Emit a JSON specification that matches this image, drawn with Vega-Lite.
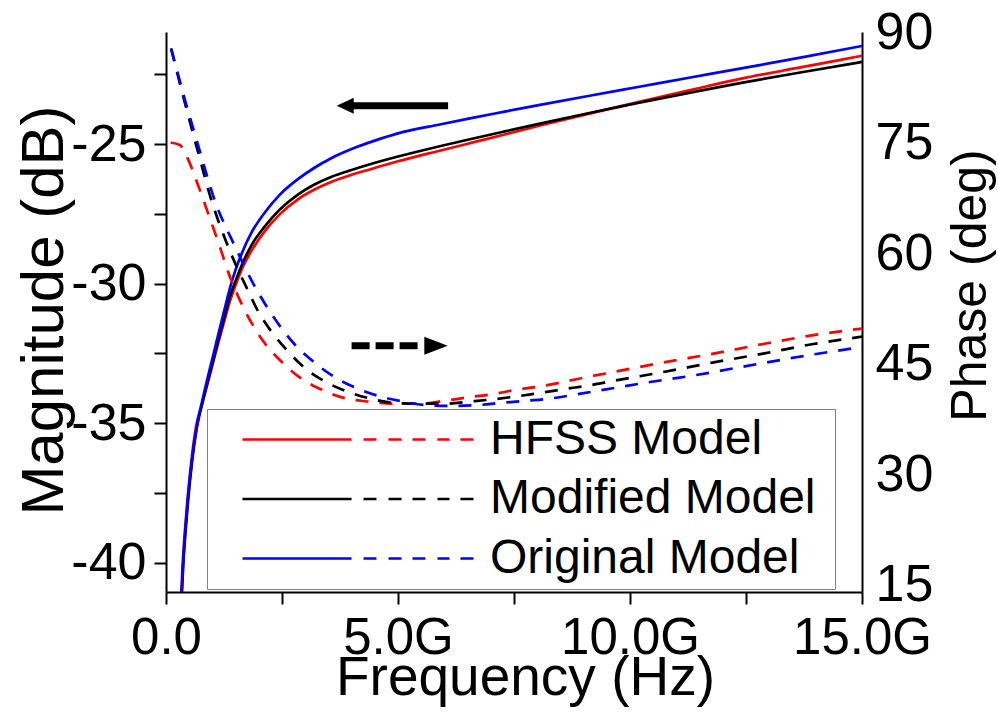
{
  "$schema": "https://vega.github.io/schema/vega-lite/v6.json",
  "width": 696,
  "height": 560,
  "autosize": {"type": "none"},
  "padding": {"left": 166, "top": 32, "right": 136, "bottom": 131},
  "background": "white",
  "config": {
    "view": {"stroke": null},
    "font": "Liberation Sans",
    "axis": {
      "grid": false,
      "domainColor": "black",
      "domainWidth": 2,
      "tickColor": "black",
      "tickWidth": 2,
      "labelFont": "Liberation Sans",
      "labelFontSize": 52,
      "labelColor": "black",
      "titleFont": "Liberation Sans",
      "titleFontSize": 55,
      "titleFontWeight": "normal",
      "titleColor": "black"
    }
  },
  "datasets": {
    "magnitude": [
      {"f": 0.31, "model": "HFSS Model", "db": -41.4},
      {"f": 0.33, "model": "HFSS Model", "db": -41.0},
      {"f": 0.36, "model": "HFSS Model", "db": -40.0},
      {"f": 0.41, "model": "HFSS Model", "db": -38.8},
      {"f": 0.47, "model": "HFSS Model", "db": -37.6},
      {"f": 0.55, "model": "HFSS Model", "db": -36.3},
      {"f": 0.65, "model": "HFSS Model", "db": -35.1},
      {"f": 0.78, "model": "HFSS Model", "db": -34.3},
      {"f": 0.9, "model": "HFSS Model", "db": -33.55},
      {"f": 1.02, "model": "HFSS Model", "db": -32.8},
      {"f": 1.13, "model": "HFSS Model", "db": -32.1},
      {"f": 1.25, "model": "HFSS Model", "db": -31.38},
      {"f": 1.38, "model": "HFSS Model", "db": -30.62},
      {"f": 1.5, "model": "HFSS Model", "db": -30.05},
      {"f": 1.63, "model": "HFSS Model", "db": -29.5},
      {"f": 1.85, "model": "HFSS Model", "db": -28.8},
      {"f": 2.13, "model": "HFSS Model", "db": -28.12},
      {"f": 2.45, "model": "HFSS Model", "db": -27.52},
      {"f": 2.85, "model": "HFSS Model", "db": -26.97},
      {"f": 3.2, "model": "HFSS Model", "db": -26.63},
      {"f": 3.57, "model": "HFSS Model", "db": -26.35},
      {"f": 4.0, "model": "HFSS Model", "db": -26.1},
      {"f": 4.29, "model": "HFSS Model", "db": -25.96},
      {"f": 5.0, "model": "HFSS Model", "db": -25.62},
      {"f": 5.9, "model": "HFSS Model", "db": -25.24},
      {"f": 6.55, "model": "HFSS Model", "db": -24.97},
      {"f": 7.3, "model": "HFSS Model", "db": -24.66},
      {"f": 8.06, "model": "HFSS Model", "db": -24.34},
      {"f": 9.1, "model": "HFSS Model", "db": -23.92},
      {"f": 10.2, "model": "HFSS Model", "db": -23.49},
      {"f": 11.3, "model": "HFSS Model", "db": -23.07},
      {"f": 12.37, "model": "HFSS Model", "db": -22.67},
      {"f": 13.7, "model": "HFSS Model", "db": -22.25},
      {"f": 15.0, "model": "HFSS Model", "db": -21.84},

      {"f": 0.32, "model": "Modified Model", "db": -41.5},
      {"f": 0.34, "model": "Modified Model", "db": -41.1},
      {"f": 0.37, "model": "Modified Model", "db": -40.1},
      {"f": 0.42, "model": "Modified Model", "db": -38.9},
      {"f": 0.48, "model": "Modified Model", "db": -37.7},
      {"f": 0.56, "model": "Modified Model", "db": -36.4},
      {"f": 0.66, "model": "Modified Model", "db": -35.2},
      {"f": 0.78, "model": "Modified Model", "db": -34.3},
      {"f": 0.9, "model": "Modified Model", "db": -33.5},
      {"f": 1.02, "model": "Modified Model", "db": -32.72},
      {"f": 1.13, "model": "Modified Model", "db": -32.0},
      {"f": 1.25, "model": "Modified Model", "db": -31.25},
      {"f": 1.38, "model": "Modified Model", "db": -30.45},
      {"f": 1.5, "model": "Modified Model", "db": -29.9},
      {"f": 1.63, "model": "Modified Model", "db": -29.35},
      {"f": 1.85, "model": "Modified Model", "db": -28.6},
      {"f": 2.13, "model": "Modified Model", "db": -27.95},
      {"f": 2.45, "model": "Modified Model", "db": -27.35},
      {"f": 2.85, "model": "Modified Model", "db": -26.8},
      {"f": 3.2, "model": "Modified Model", "db": -26.45},
      {"f": 3.57, "model": "Modified Model", "db": -26.17},
      {"f": 4.0, "model": "Modified Model", "db": -25.93},
      {"f": 4.29, "model": "Modified Model", "db": -25.78},
      {"f": 5.0, "model": "Modified Model", "db": -25.45},
      {"f": 5.9, "model": "Modified Model", "db": -25.08},
      {"f": 6.55, "model": "Modified Model", "db": -24.83},
      {"f": 7.3, "model": "Modified Model", "db": -24.55},
      {"f": 8.06, "model": "Modified Model", "db": -24.27},
      {"f": 9.1, "model": "Modified Model", "db": -23.9},
      {"f": 10.2, "model": "Modified Model", "db": -23.52},
      {"f": 11.3, "model": "Modified Model", "db": -23.16},
      {"f": 12.37, "model": "Modified Model", "db": -22.82},
      {"f": 13.7, "model": "Modified Model", "db": -22.43},
      {"f": 15.0, "model": "Modified Model", "db": -22.06},

      {"f": 0.32, "model": "Original Model", "db": -41.4},
      {"f": 0.34, "model": "Original Model", "db": -41.0},
      {"f": 0.37, "model": "Original Model", "db": -40.0},
      {"f": 0.42, "model": "Original Model", "db": -38.75},
      {"f": 0.48, "model": "Original Model", "db": -37.55},
      {"f": 0.56, "model": "Original Model", "db": -36.3},
      {"f": 0.66, "model": "Original Model", "db": -35.15},
      {"f": 0.78, "model": "Original Model", "db": -34.2},
      {"f": 0.9, "model": "Original Model", "db": -33.35},
      {"f": 1.02, "model": "Original Model", "db": -32.55},
      {"f": 1.13, "model": "Original Model", "db": -31.8},
      {"f": 1.25, "model": "Original Model", "db": -31.0},
      {"f": 1.38, "model": "Original Model", "db": -30.15},
      {"f": 1.5, "model": "Original Model", "db": -29.5},
      {"f": 1.63, "model": "Original Model", "db": -28.93},
      {"f": 1.85, "model": "Original Model", "db": -28.15},
      {"f": 2.13, "model": "Original Model", "db": -27.45},
      {"f": 2.45, "model": "Original Model", "db": -26.82},
      {"f": 2.85, "model": "Original Model", "db": -26.25},
      {"f": 3.2, "model": "Original Model", "db": -25.85},
      {"f": 3.57, "model": "Original Model", "db": -25.5},
      {"f": 4.0, "model": "Original Model", "db": -25.18},
      {"f": 4.5, "model": "Original Model", "db": -24.88},
      {"f": 5.0, "model": "Original Model", "db": -24.62},
      {"f": 5.9, "model": "Original Model", "db": -24.3},
      {"f": 6.55, "model": "Original Model", "db": -24.08},
      {"f": 7.3, "model": "Original Model", "db": -23.84},
      {"f": 8.06, "model": "Original Model", "db": -23.6},
      {"f": 9.1, "model": "Original Model", "db": -23.28},
      {"f": 10.2, "model": "Original Model", "db": -22.95},
      {"f": 11.3, "model": "Original Model", "db": -22.62},
      {"f": 12.37, "model": "Original Model", "db": -22.3},
      {"f": 13.7, "model": "Original Model", "db": -21.9},
      {"f": 15.0, "model": "Original Model", "db": -21.49}
    ],
    "phase": [
      {"f": 0.1, "model": "HFSS Model", "deg": 75.05},
      {"f": 0.3, "model": "HFSS Model", "deg": 74.7},
      {"f": 0.46, "model": "HFSS Model", "deg": 73.0},
      {"f": 0.7, "model": "HFSS Model", "deg": 69.1},
      {"f": 0.91, "model": "HFSS Model", "deg": 65.4},
      {"f": 1.16, "model": "HFSS Model", "deg": 60.9},
      {"f": 1.38, "model": "HFSS Model", "deg": 56.8},
      {"f": 1.56, "model": "HFSS Model", "deg": 54.1},
      {"f": 1.85, "model": "HFSS Model", "deg": 50.5},
      {"f": 2.13, "model": "HFSS Model", "deg": 47.8},
      {"f": 2.49, "model": "HFSS Model", "deg": 45.3},
      {"f": 2.92, "model": "HFSS Model", "deg": 43.0},
      {"f": 3.36, "model": "HFSS Model", "deg": 41.5},
      {"f": 3.89, "model": "HFSS Model", "deg": 40.3},
      {"f": 4.33, "model": "HFSS Model", "deg": 39.9},
      {"f": 4.9, "model": "HFSS Model", "deg": 39.6},
      {"f": 5.47, "model": "HFSS Model", "deg": 39.6},
      {"f": 6.01, "model": "HFSS Model", "deg": 40.0},
      {"f": 6.55, "model": "HFSS Model", "deg": 40.5},
      {"f": 7.05, "model": "HFSS Model", "deg": 40.9},
      {"f": 7.56, "model": "HFSS Model", "deg": 41.5},
      {"f": 8.1, "model": "HFSS Model", "deg": 42.0},
      {"f": 8.6, "model": "HFSS Model", "deg": 42.6},
      {"f": 9.14, "model": "HFSS Model", "deg": 43.3},
      {"f": 9.64, "model": "HFSS Model", "deg": 43.9},
      {"f": 10.72, "model": "HFSS Model", "deg": 45.2},
      {"f": 11.8, "model": "HFSS Model", "deg": 46.4},
      {"f": 12.87, "model": "HFSS Model", "deg": 47.7},
      {"f": 13.95, "model": "HFSS Model", "deg": 48.9},
      {"f": 15.0, "model": "HFSS Model", "deg": 49.8},

      {"f": 0.11, "model": "Modified Model", "deg": 87.8},
      {"f": 0.4, "model": "Modified Model", "deg": 80.6},
      {"f": 0.68, "model": "Modified Model", "deg": 74.0},
      {"f": 0.98, "model": "Modified Model", "deg": 67.2},
      {"f": 1.34, "model": "Modified Model", "deg": 60.9},
      {"f": 1.74, "model": "Modified Model", "deg": 55.3},
      {"f": 1.99, "model": "Modified Model", "deg": 52.1},
      {"f": 2.27, "model": "Modified Model", "deg": 49.4},
      {"f": 2.6, "model": "Modified Model", "deg": 46.9},
      {"f": 3.0, "model": "Modified Model", "deg": 44.4},
      {"f": 3.43, "model": "Modified Model", "deg": 42.6},
      {"f": 3.93, "model": "Modified Model", "deg": 41.2},
      {"f": 4.4, "model": "Modified Model", "deg": 40.3},
      {"f": 4.93, "model": "Modified Model", "deg": 39.7},
      {"f": 5.47, "model": "Modified Model", "deg": 39.6},
      {"f": 6.01, "model": "Modified Model", "deg": 39.6},
      {"f": 6.55, "model": "Modified Model", "deg": 39.9},
      {"f": 7.05, "model": "Modified Model", "deg": 40.2},
      {"f": 7.56, "model": "Modified Model", "deg": 40.6},
      {"f": 8.1, "model": "Modified Model", "deg": 41.1},
      {"f": 8.6, "model": "Modified Model", "deg": 41.6},
      {"f": 9.14, "model": "Modified Model", "deg": 42.1},
      {"f": 9.64, "model": "Modified Model", "deg": 42.7},
      {"f": 10.72, "model": "Modified Model", "deg": 43.9},
      {"f": 11.8, "model": "Modified Model", "deg": 45.2},
      {"f": 12.87, "model": "Modified Model", "deg": 46.4},
      {"f": 13.95, "model": "Modified Model", "deg": 47.7},
      {"f": 15.0, "model": "Modified Model", "deg": 48.7},

      {"f": 0.11, "model": "Original Model", "deg": 87.8},
      {"f": 0.25, "model": "Original Model", "deg": 84.5},
      {"f": 0.41, "model": "Original Model", "deg": 80.8},
      {"f": 0.7, "model": "Original Model", "deg": 74.5},
      {"f": 1.05, "model": "Original Model", "deg": 67.2},
      {"f": 1.49, "model": "Original Model", "deg": 60.9},
      {"f": 1.88, "model": "Original Model", "deg": 55.9},
      {"f": 2.17, "model": "Original Model", "deg": 52.8},
      {"f": 2.46, "model": "Original Model", "deg": 50.1},
      {"f": 2.78, "model": "Original Model", "deg": 47.6},
      {"f": 3.18, "model": "Original Model", "deg": 45.3},
      {"f": 3.61, "model": "Original Model", "deg": 43.3},
      {"f": 4.11, "model": "Original Model", "deg": 41.7},
      {"f": 4.61, "model": "Original Model", "deg": 40.6},
      {"f": 5.11, "model": "Original Model", "deg": 39.9},
      {"f": 5.61, "model": "Original Model", "deg": 39.4},
      {"f": 6.12, "model": "Original Model", "deg": 39.3},
      {"f": 6.69, "model": "Original Model", "deg": 39.4},
      {"f": 7.2, "model": "Original Model", "deg": 39.7},
      {"f": 7.77, "model": "Original Model", "deg": 40.0},
      {"f": 8.28, "model": "Original Model", "deg": 40.3},
      {"f": 8.78, "model": "Original Model", "deg": 40.8},
      {"f": 9.35, "model": "Original Model", "deg": 41.4},
      {"f": 10.29, "model": "Original Model", "deg": 42.4},
      {"f": 11.43, "model": "Original Model", "deg": 43.5},
      {"f": 12.5, "model": "Original Model", "deg": 44.7},
      {"f": 13.58, "model": "Original Model", "deg": 45.9},
      {"f": 15.0, "model": "Original Model", "deg": 47.3}
    ],
    "arrows": [
      {"axisSide": "magnitude", "f": 3.86, "f2": 6.08, "db": -23.63},
      {"axisSide": "phase", "f": 4.0, "f2": 5.43, "db": -32.22}
    ],
    "arrowHeads": [
      {"axisSide": "magnitude", "f": 3.862, "db": -23.63},
      {"axisSide": "phase", "f": 5.819, "db": -32.22}
    ]
  },
  "layer": [
    {
      "layer": [
        {
          "data": {"name": "magnitude"},
          "mark": {"type": "line", "strokeWidth": 2.7, "clip": true, "interpolate": "monotone"},
          "encoding": {
            "x": {
              "field": "f", "type": "quantitative",
              "scale": {"domain": [0, 15], "nice": false, "zero": false},
              "axis": {
                "title": "Frequency (Hz)",
                "values": [0, 2.5, 5, 7.5, 10, 12.5, 15],
                "labelExpr": "datum.value % 5 == 0 ? (datum.value == 0 ? '0.0' : format(datum.value, '.1f') + 'G') : ''",
                "labelFontSize": 51,
                "tickSize": 12,
                "labelPadding": 9,
                "labelFlush": false,
                "labelOverlap": false,
                "titleX": 359,
                "titleY": 102,
                "titleAlign": "center",
                "titleBaseline": "alphabetic",
                "encode": {"ticks": {"update": {"y2": {"signal": "datum.value % 5 == 0 ? 12 : 7"}}}}
              }
            },
            "y": {
              "field": "db", "type": "quantitative",
              "scale": {"domain": [-41.04, -20.99], "nice": false, "zero": false},
              "axis": {
                "title": "Magnitude (dB)",
                "orient": "left",
                "values": [-40, -37.5, -35, -32.5, -30, -27.5, -25, -22.5],
                "labelExpr": "datum.value % 5 == 0 ? '' + datum.value : ''",
                "tickSize": 12,
                "labelPadding": 8,
                "labelOverlap": false,
                "labelFlush": false,
                "titleFontSize": 60,
                "titleX": -104,
                "titleY": 278,
                "titleAngle": 270,
                "titleAlign": "center",
                "titleBaseline": "alphabetic",
                "encode": {"ticks": {"update": {"x2": {"signal": "datum.value % 5 == 0 ? -12 : -6"}}}}
              }
            },
            "color": {
              "field": "model", "type": "nominal",
              "scale": {
                "domain": ["HFSS Model", "Modified Model", "Original Model"],
                "range": ["#ff0000", "#000000", "#0000ff"]
              },
              "legend": {
                "orient": "none",
                "legendX": 41,
                "legendY": 377,
                "title": "\u00a0",
                "titleOrient": "right",
                "titleFontSize": 10,
                "titlePadding": 16,
                "symbolType": "M-1,0H-0.056M0.048,0H0.16M0.264,0H0.377M0.472,0H0.584M0.688,0H0.792M0.887,0H1",
                "symbolSize": 53361,
                "symbolStrokeWidth": 2.7,
                "symbolFillColor": "transparent",
                "symbolOffset": 31,
                "labelOffset": 15,
                "clipHeight": 55,
                "rowPadding": 4.5,
                "padding": 3,
                "strokeColor": "#808080",
                "fillColor": "#ffffff",
                "labelFont": "Liberation Sans",
                "labelFontSize": 48,
                "labelColor": "black",
                "labelLimit": 0
              }
            }
          }
        },
        {
          "data": {"name": "arrows"},
          "mark": {"type": "rule", "color": "black", "strokeWidth": 7, "strokeCap": "butt"},
          "encoding": {
            "x": {"field": "f", "type": "quantitative"},
            "x2": {"field": "f2"},
            "y": {"field": "db", "type": "quantitative"},
            "strokeDash": {
              "field": "axisSide", "type": "nominal",
              "scale": {"domain": ["magnitude", "phase"], "range": [[1, 0], [18, 6]]},
              "legend": null
            }
          }
        },
        {
          "data": {"name": "arrowHeads"},
          "mark": {"type": "point", "filled": true, "color": "black", "opacity": 1, "strokeWidth": 0},
          "encoding": {
            "x": {"field": "f", "type": "quantitative"},
            "y": {"field": "db", "type": "quantitative"},
            "shape": {
              "field": "axisSide", "type": "nominal",
              "scale": {"domain": ["magnitude", "phase"], "range": ["M-1,0L1,-0.94L1,0.94Z", "M1,0L-1,-0.77L-1,0.77Z"]},
              "legend": null
            },
            "size": {
              "field": "axisSide", "type": "nominal",
              "scale": {"domain": ["magnitude", "phase"], "range": [289, 548]},
              "legend": null
            }
          }
        }
      ]
    },
    {
      "data": {"name": "phase"},
      "mark": {"type": "line", "strokeWidth": 2.7, "strokeDash": [13, 11], "clip": true, "interpolate": "monotone"},
      "encoding": {
        "x": {"field": "f", "type": "quantitative"},
        "y": {
          "field": "deg", "type": "quantitative",
          "scale": {"domain": [14.05, 90.04], "nice": false, "zero": false},
          "axis": {
            "title": "Phase (deg)",
            "orient": "right",
            "values": [15, 22.5, 30, 37.5, 45, 52.5, 60, 67.5, 75, 82.5, 90],
            "labelExpr": "datum.value % 15 == 0 ? '' + datum.value : ''",
            "tickSize": 0,
            "labelPadding": 13,
            "labelOverlap": false,
            "labelFlush": false,
            "titleFontSize": 50,
            "titleX": 123,
            "titleY": 253,
            "titleAngle": 270,
            "titleAlign": "center",
            "titleBaseline": "alphabetic",
            "encode": {"ticks": {"update": {"x2": {"signal": "datum.value % 15 == 0 ? -12 : -7"}}}}
          }
        },
        "color": {"field": "model", "type": "nominal"}
      }
    }
  ],
  "resolve": {"scale": {"y": "independent"}}
}
